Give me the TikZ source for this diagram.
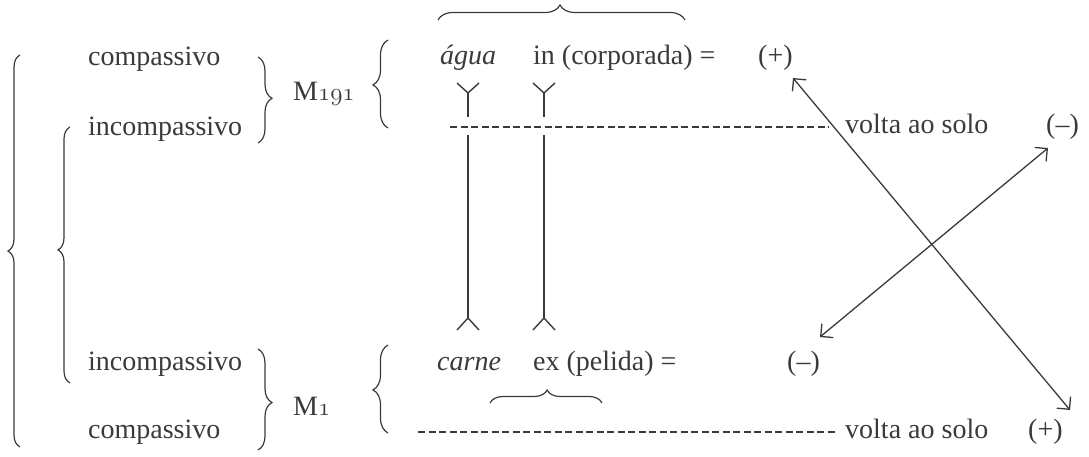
\documentclass[tikz,border=0pt]{standalone}
\usepackage{fontspec}
\setmainfont{Liberation Serif}
\usetikzlibrary{decorations.pathreplacing,arrows.meta}
\definecolor{ink}{HTML}{3A3A3A}
\newcommand{\osnum}[1]{{\fontencoding{OML}\fontfamily{cmm}\fontseries{m}\fontshape{it}\selectfont #1}}
\tikzset{
  lbl/.style={anchor=base west, inner sep=0pt, text=ink, font=\fontsize{28}{32}\selectfont},
  ital/.style={font=\fontsize{28}{32}\selectfont\itshape},
  brc/.style={draw=ink, line width=1.2pt, decorate, decoration={brace, amplitude=#1}},
  brc/.default=12pt,
  conn/.style={draw=ink, line width=1.4pt},
  dashline/.style={draw=ink, line width=1.4pt, dash pattern=on 7pt off 3.5pt},
  dbl/.style={draw=ink, line width=1.3pt, {Straight Barb[length=9pt,width=18pt]}-{Straight Barb[length=9pt,width=18pt]}}
}
\begin{document}
\begin{tikzpicture}[x=1pt,y=-1pt]
\useasboundingbox (0,0) rectangle (1089,456);

% texts
\node[lbl] (c1) at (88,65) {compassivo};
\node[lbl] (i1) at (88,135) {incompassivo};
\node[lbl] (i2) at (88,370) {incompassivo};
\node[lbl] (c2) at (88,438) {compassivo};
\node[lbl] (m191) at (293,100) {M\osnum{191}};
\node[lbl] (m1) at (293,415) {M\osnum{1}};
\node[lbl,ital] (agua) at (440,64) {água};
\node[lbl] (incorp) at (533,64) {in (corporada) =};
\node[lbl] (plus1) at (758,64) {(+)};
\node[lbl] (volta1) at (845,133) {volta ao solo};
\node[lbl] (minus1) at (1046,133) {(--)};
\node[lbl,ital] (carne) at (437,370) {carne};
\node[lbl] (expel) at (533,370) {ex (pelida) =};
\node[lbl] (minus2) at (787,370) {(--)};
\node[lbl] (volta2) at (845,438) {volta ao solo};
\node[lbl] (plus2) at (1028,438) {(+)};

% braces
\draw[brc=12pt, decoration={aspect=0.5}] (20,447) -- (20,55);
\draw[brc=12pt, decoration={aspect=0.52}] (70,383) -- (70,127);
\draw[brc=14pt, decoration={aspect=0.48}] (258,57) -- (258,143);
\draw[brc=14pt, decoration={aspect=0.53}] (258,349) -- (258,450);
\draw[brc=15pt, decoration={aspect=0.49}] (388,128) -- (388,40);
\draw[brc=15pt, decoration={aspect=0.49}] (388,433) -- (388,345);
\draw[brc=15pt, decoration={aspect=0.494}] (438,20) -- (685,20);
\draw[brc=13pt, decoration={aspect=0.51}] (490,403) -- (602,403);

% coordinates for the vertical connectors
\foreach \n/\x in {a/468,b/544}{
  \coordinate (ytl\n) at (\x-11,83);
  \coordinate (ytr\n) at (\x+11,83);
  \coordinate (yj\n) at (\x,93);
  \coordinate (ys\n) at (\x,117);
  \coordinate (ls\n) at (\x,135);
  \coordinate (lj\n) at (\x,318);
  \coordinate (lbl\n) at (\x-11,330);
  \coordinate (lbr\n) at (\x+11,330);
}
\foreach \n in {a,b}{
  \draw[conn] (ytl\n) -- (yj\n) -- (ytr\n);
  \draw[conn] (yj\n) -- (ys\n);
  \draw[conn] (ls\n) -- (lj\n);
  \draw[conn] (lbl\n) -- (lj\n) -- (lbr\n);
}

% dashed lines
\coordinate (d1s) at (450,127);
\coordinate (d1e) at (829,127);
\coordinate (d2s) at (418,432);
\coordinate (d2e) at (838,432);
\draw[dashline] (d1s) -- (d1e);
\draw[dashline] (d2s) -- (d2e);

% crossing arrows
\coordinate (a1s) at (793,78);
\coordinate (a1e) at (1070,410);
\coordinate (a2s) at (820,337);
\coordinate (a2e) at (1048,148);
\draw[dbl] (a1s) -- (a1e);
\draw[dbl] (a2s) -- (a2e);
\end{tikzpicture}
\end{document}
